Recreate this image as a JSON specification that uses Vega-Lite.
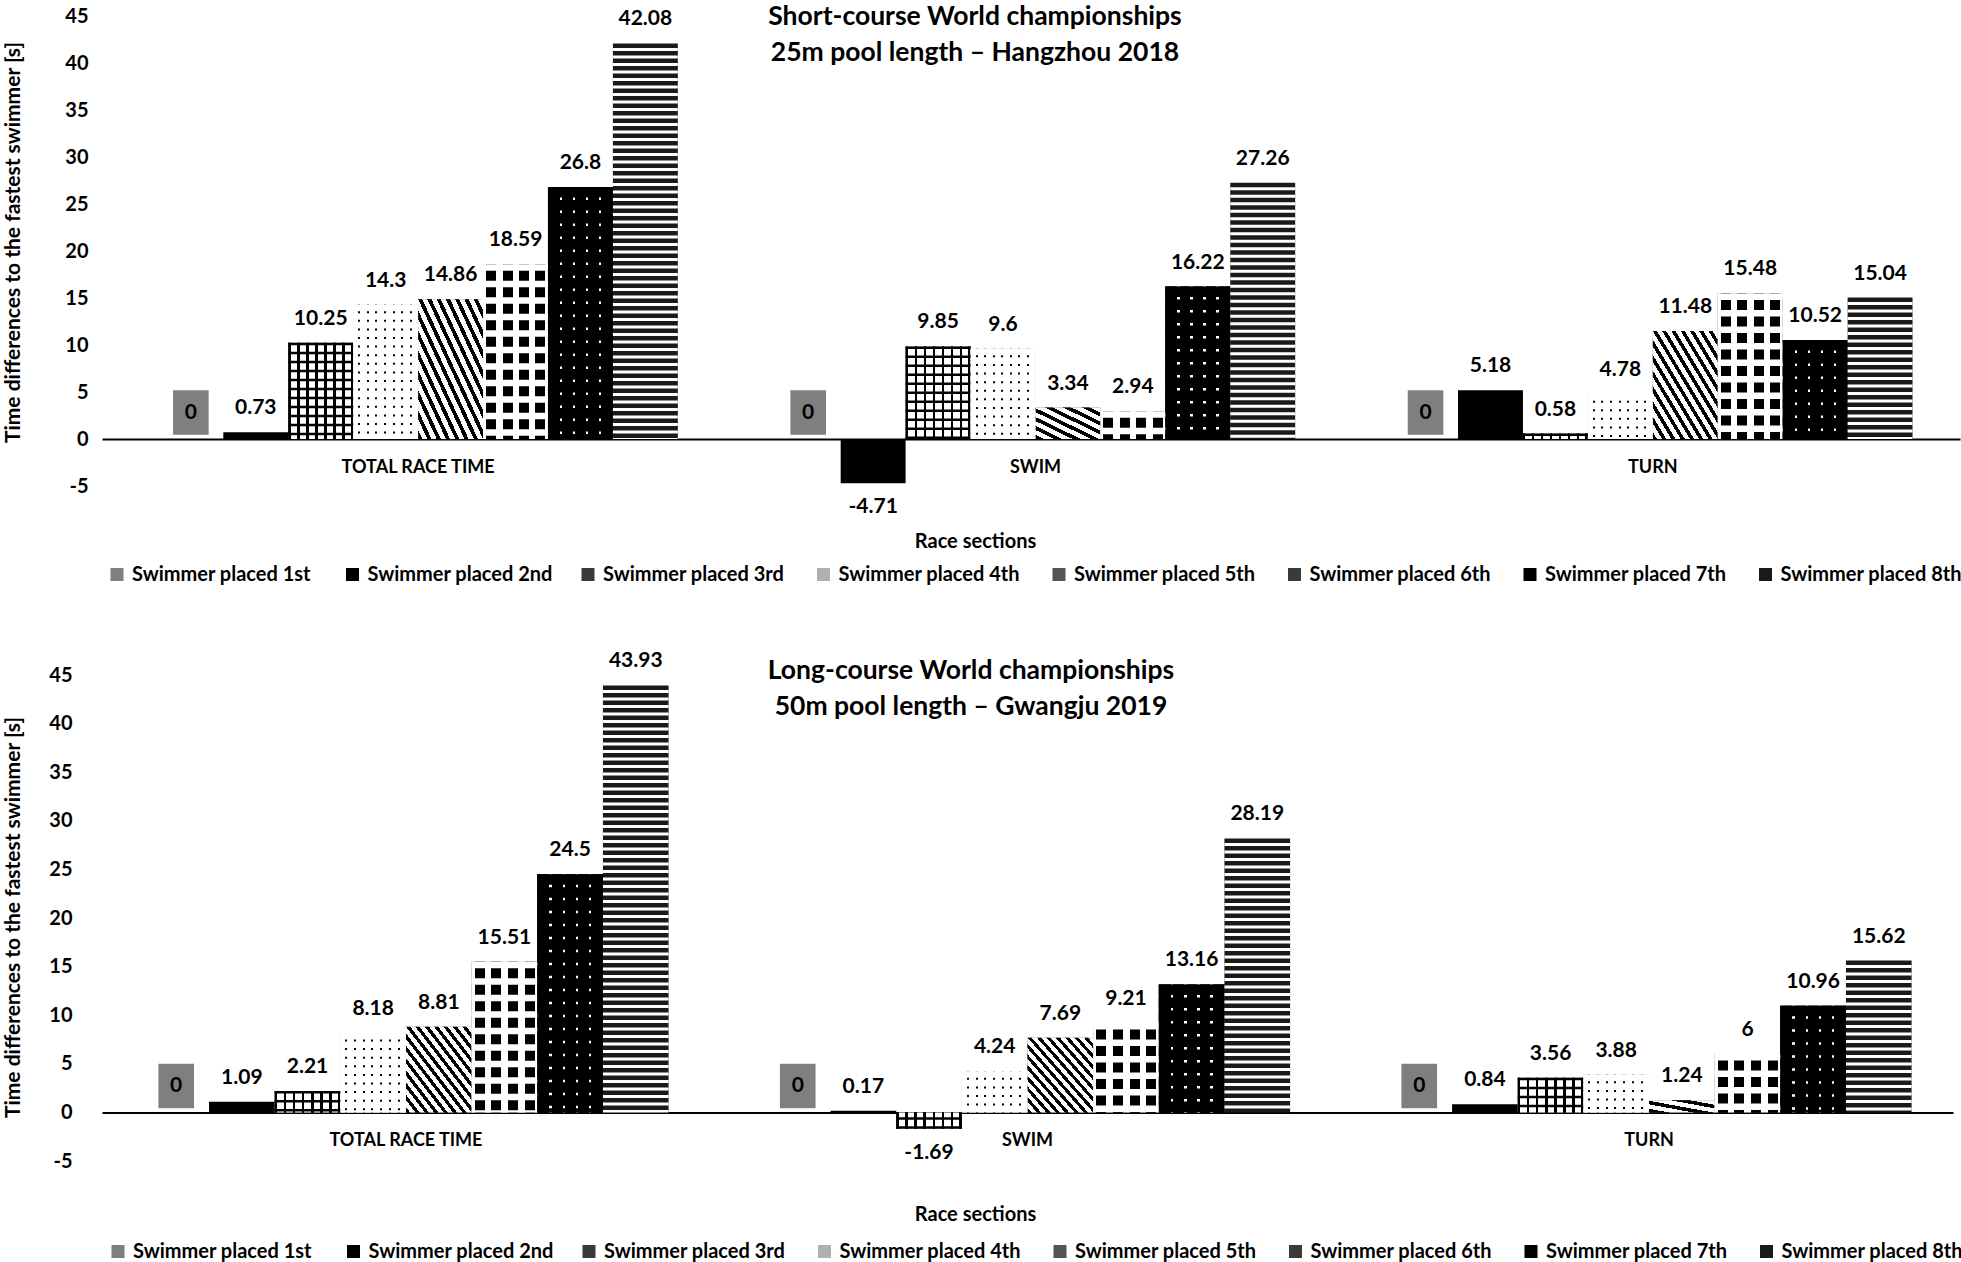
{
  "$schema": "https://vega.github.io/schema/vega-lite/v6.json",
  "background": "white",
  "padding": {"left": 1, "top": 4, "right": 0, "bottom": 0},
  "datasets": {
    "short": [
      {"section": "TOTAL RACE TIME", "swimmer": "Swimmer placed 1st", "value": 0},
      {"section": "TOTAL RACE TIME", "swimmer": "Swimmer placed 2nd", "value": 0.73},
      {"section": "TOTAL RACE TIME", "swimmer": "Swimmer placed 3rd", "value": 10.25},
      {"section": "TOTAL RACE TIME", "swimmer": "Swimmer placed 4th", "value": 14.3},
      {"section": "TOTAL RACE TIME", "swimmer": "Swimmer placed 5th", "value": 14.86},
      {"section": "TOTAL RACE TIME", "swimmer": "Swimmer placed 6th", "value": 18.59},
      {"section": "TOTAL RACE TIME", "swimmer": "Swimmer placed 7th", "value": 26.8},
      {"section": "TOTAL RACE TIME", "swimmer": "Swimmer placed 8th", "value": 42.08},
      {"section": "SWIM", "swimmer": "Swimmer placed 1st", "value": 0},
      {"section": "SWIM", "swimmer": "Swimmer placed 2nd", "value": -4.71},
      {"section": "SWIM", "swimmer": "Swimmer placed 3rd", "value": 9.85},
      {"section": "SWIM", "swimmer": "Swimmer placed 4th", "value": 9.6},
      {"section": "SWIM", "swimmer": "Swimmer placed 5th", "value": 3.34},
      {"section": "SWIM", "swimmer": "Swimmer placed 6th", "value": 2.94},
      {"section": "SWIM", "swimmer": "Swimmer placed 7th", "value": 16.22},
      {"section": "SWIM", "swimmer": "Swimmer placed 8th", "value": 27.26},
      {"section": "TURN", "swimmer": "Swimmer placed 1st", "value": 0},
      {"section": "TURN", "swimmer": "Swimmer placed 2nd", "value": 5.18},
      {"section": "TURN", "swimmer": "Swimmer placed 3rd", "value": 0.58},
      {"section": "TURN", "swimmer": "Swimmer placed 4th", "value": 4.78},
      {"section": "TURN", "swimmer": "Swimmer placed 5th", "value": 11.48},
      {"section": "TURN", "swimmer": "Swimmer placed 6th", "value": 15.48},
      {"section": "TURN", "swimmer": "Swimmer placed 7th", "value": 10.52},
      {"section": "TURN", "swimmer": "Swimmer placed 8th", "value": 15.04}
    ],
    "long": [
      {"section": "TOTAL RACE TIME", "swimmer": "Swimmer placed 1st", "value": 0},
      {"section": "TOTAL RACE TIME", "swimmer": "Swimmer placed 2nd", "value": 1.09},
      {"section": "TOTAL RACE TIME", "swimmer": "Swimmer placed 3rd", "value": 2.21},
      {"section": "TOTAL RACE TIME", "swimmer": "Swimmer placed 4th", "value": 8.18},
      {"section": "TOTAL RACE TIME", "swimmer": "Swimmer placed 5th", "value": 8.81},
      {"section": "TOTAL RACE TIME", "swimmer": "Swimmer placed 6th", "value": 15.51},
      {"section": "TOTAL RACE TIME", "swimmer": "Swimmer placed 7th", "value": 24.5},
      {"section": "TOTAL RACE TIME", "swimmer": "Swimmer placed 8th", "value": 43.93},
      {"section": "SWIM", "swimmer": "Swimmer placed 1st", "value": 0},
      {"section": "SWIM", "swimmer": "Swimmer placed 2nd", "value": 0.17},
      {"section": "SWIM", "swimmer": "Swimmer placed 3rd", "value": -1.69},
      {"section": "SWIM", "swimmer": "Swimmer placed 4th", "value": 4.24},
      {"section": "SWIM", "swimmer": "Swimmer placed 5th", "value": 7.69},
      {"section": "SWIM", "swimmer": "Swimmer placed 6th", "value": 9.21},
      {"section": "SWIM", "swimmer": "Swimmer placed 7th", "value": 13.16},
      {"section": "SWIM", "swimmer": "Swimmer placed 8th", "value": 28.19},
      {"section": "TURN", "swimmer": "Swimmer placed 1st", "value": 0},
      {"section": "TURN", "swimmer": "Swimmer placed 2nd", "value": 0.84},
      {"section": "TURN", "swimmer": "Swimmer placed 3rd", "value": 3.56},
      {"section": "TURN", "swimmer": "Swimmer placed 4th", "value": 3.88},
      {"section": "TURN", "swimmer": "Swimmer placed 5th", "value": 1.24},
      {"section": "TURN", "swimmer": "Swimmer placed 6th", "value": 6},
      {"section": "TURN", "swimmer": "Swimmer placed 7th", "value": 10.96},
      {"section": "TURN", "swimmer": "Swimmer placed 8th", "value": 15.62}
    ]
  },
  "config": {
    "font": "Lato",
    "view": {"stroke": null},
    "axis": {"labelFont": "Lato", "labelFontWeight": "bold", "labelColor": "black", "titleFont": "Lato", "titleFontWeight": "bold", "titleColor": "black", "grid": false, "ticks": false, "tickSize": 0},
    "axisY": {"domain": false, "labelFontSize": 20, "labelFontWeight": "bold", "titleFontSize": 21, "titleFontWeight": "bold", "titleAngle": 270, "titleX": -89, "titleBaseline": "middle", "titleAlign": "center", "values": [-5, 0, 5, 10, 15, 20, 25, 30, 35, 40, 45], "labelExpr": "'' + datum.value"},
    "axisX": {"domainColor": "black", "domainWidth": 2, "labelAngle": 0, "labelFontSize": 18, "labelFontWeight": "bold", "labelPadding": 19, "titleFontSize": 20, "titleFontWeight": "bold", "titlePadding": 55, "titleX": 873},
    "legend": {"orient": "none", "direction": "horizontal", "columns": 8, "symbolType": "square", "symbolSize": 169, "symbolStrokeWidth": 0, "labelFont": "Lato", "labelFontSize": 20, "labelFontWeight": "bold", "labelColor": "black", "labelLimit": 400, "columnPadding": 24.5, "gridAlign": "all", "labelOffset": 5, "padding": 0},
    "title": {"font": "Lato", "fontSize": 26.5, "fontWeight": "bold", "color": "black", "anchor": "middle", "lineHeight": 36, "frame": "group"}
  },
  "spacing": 189,
  "bounds": "flush",
  "resolve": {"scale": {"color": "independent", "x": "independent", "y": "independent", "xOffset": "independent"}, "legend": {"color": "independent"}},
  "vconcat": [
    {
      "data": {"name": "short"},
      "width": 1858,
      "height": 470,
      "title": {"text": ["Short-course World championships", "25m pool length – Hangzhou 2018"], "offset": -60.6, "dx": -56},
      "encoding": {
        "x": {"field": "section", "type": "nominal", "sort": ["TOTAL RACE TIME", "SWIM", "TURN"], "scale": {"domain": ["TOTAL RACE TIME", "SWIM", "TURN"], "paddingInner": 0.1586, "paddingOuter": 0.0841, "align": 0.543}, "axis": {"offset": -47, "title": "Race sections"}},
        "xOffset": {"field": "swimmer", "type": "nominal", "scale": {"domain": ["Swimmer placed 1st", "Swimmer placed 2nd", "Swimmer placed 3rd", "Swimmer placed 4th", "Swimmer placed 5th", "Swimmer placed 6th", "Swimmer placed 7th", "Swimmer placed 8th"], "paddingInner": 0, "paddingOuter": 0}},
        "y": {"field": "value", "type": "quantitative", "scale": {"domain": [-5, 45], "nice": false, "zero": false}, "axis": {"title": "Time differences to the fastest swimmer [s]", "labelPadding": 14, "titleY": 226}}
      },
      "layer": [
        {"mark": {"type": "bar"}, "encoding": {"color": {"field": "swimmer", "type": "nominal", "scale": {"domain": ["Swimmer placed 1st", "Swimmer placed 2nd", "Swimmer placed 3rd", "Swimmer placed 4th", "Swimmer placed 5th", "Swimmer placed 6th", "Swimmer placed 7th", "Swimmer placed 8th"], "range": ["#7f7f7f", "#000000", "#3a3a3a", "#b0b0b0", "#555555", "#3a3a3a", "#000000", "#1a1a1a"]}, "legend": {"title": null, "legendX": 5, "legendY": 548.5}}}},
        {"transform": [{"filter": "datum.swimmer == 'Swimmer placed 3rd'"}], "mark": {"type": "bar", "fill": {"gradient": "linear", "x1": 0, "y1": 0, "x2": 1, "y2": 0, "stops": [{"offset": 0, "color": "black"}, {"offset": 0.0385, "color": "black"}, {"offset": 0.0385, "color": "white"}, {"offset": 0.1385, "color": "white"}, {"offset": 0.1385, "color": "black"}, {"offset": 0.1769, "color": "black"}, {"offset": 0.1769, "color": "white"}, {"offset": 0.2769, "color": "white"}, {"offset": 0.2769, "color": "black"}, {"offset": 0.3154, "color": "black"}, {"offset": 0.3154, "color": "white"}, {"offset": 0.4154, "color": "white"}, {"offset": 0.4154, "color": "black"}, {"offset": 0.4538, "color": "black"}, {"offset": 0.4538, "color": "white"}, {"offset": 0.5538, "color": "white"}, {"offset": 0.5538, "color": "black"}, {"offset": 0.5923, "color": "black"}, {"offset": 0.5923, "color": "white"}, {"offset": 0.6923, "color": "white"}, {"offset": 0.6923, "color": "black"}, {"offset": 0.7308, "color": "black"}, {"offset": 0.7308, "color": "white"}, {"offset": 0.8308, "color": "white"}, {"offset": 0.8308, "color": "black"}, {"offset": 0.8692, "color": "black"}, {"offset": 0.8692, "color": "white"}, {"offset": 0.9615, "color": "white"}, {"offset": 0.9615, "color": "black"}, {"offset": 1, "color": "black"}]}}},
        {"transform": [{"filter": "datum.swimmer == 'Swimmer placed 4th'"}], "mark": {"type": "bar", "fill": {"gradient": "linear", "x1": 0, "y1": 0, "x2": 1, "y2": 0, "stops": [{"offset": 0, "color": "white"}, {"offset": 0.0769, "color": "white"}, {"offset": 0.0769, "color": "black"}, {"offset": 0.1077, "color": "black"}, {"offset": 0.1077, "color": "white"}, {"offset": 0.2092, "color": "white"}, {"offset": 0.2092, "color": "black"}, {"offset": 0.24, "color": "black"}, {"offset": 0.24, "color": "white"}, {"offset": 0.3415, "color": "white"}, {"offset": 0.3415, "color": "black"}, {"offset": 0.3723, "color": "black"}, {"offset": 0.3723, "color": "white"}, {"offset": 0.4738, "color": "white"}, {"offset": 0.4738, "color": "black"}, {"offset": 0.5046, "color": "black"}, {"offset": 0.5046, "color": "white"}, {"offset": 0.6062, "color": "white"}, {"offset": 0.6062, "color": "black"}, {"offset": 0.6369, "color": "black"}, {"offset": 0.6369, "color": "white"}, {"offset": 0.7385, "color": "white"}, {"offset": 0.7385, "color": "black"}, {"offset": 0.7692, "color": "black"}, {"offset": 0.7692, "color": "white"}, {"offset": 0.8708, "color": "white"}, {"offset": 0.8708, "color": "black"}, {"offset": 0.9015, "color": "black"}, {"offset": 0.9015, "color": "white"}, {"offset": 1, "color": "white"}]}}},
        {"transform": [{"filter": "datum.swimmer == 'Swimmer placed 5th' && datum.value >= 5"}], "mark": {"type": "bar", "fill": {"gradient": "linear", "x1": 0, "y1": 1, "x2": 1, "y2": 0, "stops": [{"offset": 0, "color": "black"}, {"offset": 0.032, "color": "black"}, {"offset": 0.032, "color": "white"}, {"offset": 0.0714, "color": "white"}, {"offset": 0.0714, "color": "black"}, {"offset": 0.1034, "color": "black"}, {"offset": 0.1034, "color": "white"}, {"offset": 0.1429, "color": "white"}, {"offset": 0.1429, "color": "black"}, {"offset": 0.1749, "color": "black"}, {"offset": 0.1749, "color": "white"}, {"offset": 0.2143, "color": "white"}, {"offset": 0.2143, "color": "black"}, {"offset": 0.2463, "color": "black"}, {"offset": 0.2463, "color": "white"}, {"offset": 0.2857, "color": "white"}, {"offset": 0.2857, "color": "black"}, {"offset": 0.3177, "color": "black"}, {"offset": 0.3177, "color": "white"}, {"offset": 0.3571, "color": "white"}, {"offset": 0.3571, "color": "black"}, {"offset": 0.3891, "color": "black"}, {"offset": 0.3891, "color": "white"}, {"offset": 0.4286, "color": "white"}, {"offset": 0.4286, "color": "black"}, {"offset": 0.4606, "color": "black"}, {"offset": 0.4606, "color": "white"}, {"offset": 0.5, "color": "white"}, {"offset": 0.5, "color": "black"}, {"offset": 0.532, "color": "black"}, {"offset": 0.532, "color": "white"}, {"offset": 0.5714, "color": "white"}, {"offset": 0.5714, "color": "black"}, {"offset": 0.6034, "color": "black"}, {"offset": 0.6034, "color": "white"}, {"offset": 0.6429, "color": "white"}, {"offset": 0.6429, "color": "black"}, {"offset": 0.6749, "color": "black"}, {"offset": 0.6749, "color": "white"}, {"offset": 0.7143, "color": "white"}, {"offset": 0.7143, "color": "black"}, {"offset": 0.7463, "color": "black"}, {"offset": 0.7463, "color": "white"}, {"offset": 0.7857, "color": "white"}, {"offset": 0.7857, "color": "black"}, {"offset": 0.8177, "color": "black"}, {"offset": 0.8177, "color": "white"}, {"offset": 0.8571, "color": "white"}, {"offset": 0.8571, "color": "black"}, {"offset": 0.8891, "color": "black"}, {"offset": 0.8891, "color": "white"}, {"offset": 0.9286, "color": "white"}, {"offset": 0.9286, "color": "black"}, {"offset": 0.9606, "color": "black"}, {"offset": 0.9606, "color": "white"}, {"offset": 1, "color": "white"}]}}},
        {"transform": [{"filter": "datum.swimmer == 'Swimmer placed 5th' && datum.value >= 2 && datum.value < 5"}], "mark": {"type": "bar", "fill": {"gradient": "linear", "x1": 0, "y1": 1, "x2": 1, "y2": 0, "stops": [{"offset": 0, "color": "black"}, {"offset": 0.0643, "color": "black"}, {"offset": 0.0643, "color": "white"}, {"offset": 0.1429, "color": "white"}, {"offset": 0.1429, "color": "black"}, {"offset": 0.2071, "color": "black"}, {"offset": 0.2071, "color": "white"}, {"offset": 0.2857, "color": "white"}, {"offset": 0.2857, "color": "black"}, {"offset": 0.35, "color": "black"}, {"offset": 0.35, "color": "white"}, {"offset": 0.4286, "color": "white"}, {"offset": 0.4286, "color": "black"}, {"offset": 0.4929, "color": "black"}, {"offset": 0.4929, "color": "white"}, {"offset": 0.5714, "color": "white"}, {"offset": 0.5714, "color": "black"}, {"offset": 0.6357, "color": "black"}, {"offset": 0.6357, "color": "white"}, {"offset": 0.7143, "color": "white"}, {"offset": 0.7143, "color": "black"}, {"offset": 0.7786, "color": "black"}, {"offset": 0.7786, "color": "white"}, {"offset": 0.8571, "color": "white"}, {"offset": 0.8571, "color": "black"}, {"offset": 0.9214, "color": "black"}, {"offset": 0.9214, "color": "white"}, {"offset": 1, "color": "white"}]}}},
        {"transform": [{"filter": "datum.swimmer == 'Swimmer placed 5th' && datum.value > 0 && datum.value < 2"}], "mark": {"type": "bar", "fill": {"gradient": "linear", "x1": 0, "y1": 1, "x2": 1, "y2": 0, "stops": [{"offset": 0, "color": "black"}, {"offset": 0.15, "color": "black"}, {"offset": 0.15, "color": "white"}, {"offset": 0.3333, "color": "white"}, {"offset": 0.3333, "color": "black"}, {"offset": 0.4833, "color": "black"}, {"offset": 0.4833, "color": "white"}, {"offset": 0.6667, "color": "white"}, {"offset": 0.6667, "color": "black"}, {"offset": 0.8167, "color": "black"}, {"offset": 0.8167, "color": "white"}, {"offset": 1, "color": "white"}]}}},
        {"transform": [{"filter": "datum.swimmer == 'Swimmer placed 6th'"}], "mark": {"type": "bar", "fill": {"gradient": "linear", "x1": 0, "y1": 0, "x2": 1, "y2": 0, "stops": [{"offset": 0, "color": "white"}, {"offset": 0.0462, "color": "white"}, {"offset": 0.0462, "color": "black"}, {"offset": 0.2, "color": "black"}, {"offset": 0.2, "color": "white"}, {"offset": 0.3, "color": "white"}, {"offset": 0.3, "color": "black"}, {"offset": 0.4538, "color": "black"}, {"offset": 0.4538, "color": "white"}, {"offset": 0.5538, "color": "white"}, {"offset": 0.5538, "color": "black"}, {"offset": 0.7077, "color": "black"}, {"offset": 0.7077, "color": "white"}, {"offset": 0.8077, "color": "white"}, {"offset": 0.8077, "color": "black"}, {"offset": 0.9615, "color": "black"}, {"offset": 0.9615, "color": "white"}, {"offset": 1, "color": "white"}]}}},
        {"transform": [{"filter": "datum.swimmer == 'Swimmer placed 7th'"}], "mark": {"type": "bar", "fill": {"gradient": "linear", "x1": 0, "y1": 0, "x2": 1, "y2": 0, "stops": [{"offset": 0, "color": "black"}, {"offset": 0.1846, "color": "black"}, {"offset": 0.1846, "color": "white"}, {"offset": 0.2231, "color": "white"}, {"offset": 0.2231, "color": "black"}, {"offset": 0.3846, "color": "black"}, {"offset": 0.3846, "color": "white"}, {"offset": 0.4231, "color": "white"}, {"offset": 0.4231, "color": "black"}, {"offset": 0.5846, "color": "black"}, {"offset": 0.5846, "color": "white"}, {"offset": 0.6231, "color": "white"}, {"offset": 0.6231, "color": "black"}, {"offset": 0.7846, "color": "black"}, {"offset": 0.7846, "color": "white"}, {"offset": 0.8231, "color": "white"}, {"offset": 0.8231, "color": "black"}, {"offset": 1, "color": "black"}]}}},
        {"transform": [{"filter": "datum.swimmer == 'Swimmer placed 3rd'"}], "mark": {"type": "rule", "color": "black", "strokeWidth": 64.9, "strokeDash": [2.5, 6.5]}, "encoding": {"y2": {"datum": 0}}},
        {"transform": [{"filter": "datum.swimmer == 'Swimmer placed 4th'"}], "mark": {"type": "rule", "color": "white", "strokeWidth": 64.9, "strokeDash": [6.6, 2]}, "encoding": {"y2": {"datum": 0}}},
        {"transform": [{"filter": "datum.swimmer == 'Swimmer placed 6th'"}], "mark": {"type": "rule", "color": "white", "strokeWidth": 64.9, "strokeDash": [6.5, 10]}, "encoding": {"y2": {"datum": 0}}},
        {"transform": [{"filter": "datum.swimmer == 'Swimmer placed 7th'"}], "mark": {"type": "rule", "color": "black", "strokeWidth": 64.9, "strokeDash": [10.5, 2.5]}, "encoding": {"y2": {"datum": 0}}},
        {"transform": [{"filter": "datum.swimmer == 'Swimmer placed 8th'"}], "mark": {"type": "rule", "color": "white", "strokeWidth": 64.9, "strokeDash": [3, 4.5], "strokeDashOffset": 3}, "encoding": {"y2": {"datum": 0}}},
        {"transform": [{"filter": "datum.value > 0"}], "mark": {"type": "text", "dy": -24, "font": "Lato", "fontSize": 21, "fontWeight": "bold", "color": "black", "baseline": "middle"}, "encoding": {"text": {"field": "value", "type": "nominal"}}},
        {"transform": [{"filter": "datum.value < 0"}], "mark": {"type": "text", "dy": 24, "font": "Lato", "fontSize": 21, "fontWeight": "bold", "color": "black", "baseline": "middle"}, "encoding": {"text": {"field": "value", "type": "nominal"}}},
        {"transform": [{"filter": "datum.value == 0"}], "mark": {"type": "point", "shape": "M-0.8,-1L0.8,-1L0.8,1L-0.8,1Z", "filled": true, "color": "#7f7f7f", "opacity": 1, "size": 1984, "yOffset": -26.5, "strokeWidth": 0}},
        {"transform": [{"filter": "datum.value == 0"}], "mark": {"type": "text", "dy": -26.5, "font": "Lato", "fontSize": 21, "fontWeight": "bold", "color": "black", "baseline": "middle"}, "encoding": {"text": {"field": "value", "type": "nominal"}}}
      ]
    },
    {
      "data": {"name": "long"},
      "width": 1851,
      "height": 486,
      "title": {"text": ["Long-course World championships", "50m pool length – Gwangju 2019"], "offset": -70.2, "dx": -56.5},
      "encoding": {
        "x": {"field": "section", "type": "nominal", "sort": ["TOTAL RACE TIME", "SWIM", "TURN"], "scale": {"domain": ["TOTAL RACE TIME", "SWIM", "TURN"], "paddingInner": 0.155, "paddingOuter": 0.0666}, "axis": {"offset": -48.5, "title": "Race sections"}},
        "xOffset": {"field": "swimmer", "type": "nominal", "scale": {"domain": ["Swimmer placed 1st", "Swimmer placed 2nd", "Swimmer placed 3rd", "Swimmer placed 4th", "Swimmer placed 5th", "Swimmer placed 6th", "Swimmer placed 7th", "Swimmer placed 8th"], "paddingInner": 0, "paddingOuter": 0}},
        "y": {"field": "value", "type": "quantitative", "scale": {"domain": [-5, 45], "nice": false, "zero": false}, "axis": {"title": "Time differences to the fastest swimmer [s]", "labelPadding": 30, "titleY": 242}}
      },
      "layer": [
        {"mark": {"type": "bar"}, "encoding": {"color": {"field": "swimmer", "type": "nominal", "scale": {"domain": ["Swimmer placed 1st", "Swimmer placed 2nd", "Swimmer placed 3rd", "Swimmer placed 4th", "Swimmer placed 5th", "Swimmer placed 6th", "Swimmer placed 7th", "Swimmer placed 8th"], "range": ["#7f7f7f", "#000000", "#3a3a3a", "#b0b0b0", "#555555", "#3a3a3a", "#000000", "#1a1a1a"]}, "legend": {"title": null, "legendX": 6, "legendY": 566.5}}}},
        {"transform": [{"filter": "datum.swimmer == 'Swimmer placed 3rd'"}], "mark": {"type": "bar", "fill": {"gradient": "linear", "x1": 0, "y1": 0, "x2": 1, "y2": 0, "stops": [{"offset": 0, "color": "black"}, {"offset": 0.0385, "color": "black"}, {"offset": 0.0385, "color": "white"}, {"offset": 0.1385, "color": "white"}, {"offset": 0.1385, "color": "black"}, {"offset": 0.1769, "color": "black"}, {"offset": 0.1769, "color": "white"}, {"offset": 0.2769, "color": "white"}, {"offset": 0.2769, "color": "black"}, {"offset": 0.3154, "color": "black"}, {"offset": 0.3154, "color": "white"}, {"offset": 0.4154, "color": "white"}, {"offset": 0.4154, "color": "black"}, {"offset": 0.4538, "color": "black"}, {"offset": 0.4538, "color": "white"}, {"offset": 0.5538, "color": "white"}, {"offset": 0.5538, "color": "black"}, {"offset": 0.5923, "color": "black"}, {"offset": 0.5923, "color": "white"}, {"offset": 0.6923, "color": "white"}, {"offset": 0.6923, "color": "black"}, {"offset": 0.7308, "color": "black"}, {"offset": 0.7308, "color": "white"}, {"offset": 0.8308, "color": "white"}, {"offset": 0.8308, "color": "black"}, {"offset": 0.8692, "color": "black"}, {"offset": 0.8692, "color": "white"}, {"offset": 0.9615, "color": "white"}, {"offset": 0.9615, "color": "black"}, {"offset": 1, "color": "black"}]}}},
        {"transform": [{"filter": "datum.swimmer == 'Swimmer placed 4th'"}], "mark": {"type": "bar", "fill": {"gradient": "linear", "x1": 0, "y1": 0, "x2": 1, "y2": 0, "stops": [{"offset": 0, "color": "white"}, {"offset": 0.0769, "color": "white"}, {"offset": 0.0769, "color": "black"}, {"offset": 0.1077, "color": "black"}, {"offset": 0.1077, "color": "white"}, {"offset": 0.2092, "color": "white"}, {"offset": 0.2092, "color": "black"}, {"offset": 0.24, "color": "black"}, {"offset": 0.24, "color": "white"}, {"offset": 0.3415, "color": "white"}, {"offset": 0.3415, "color": "black"}, {"offset": 0.3723, "color": "black"}, {"offset": 0.3723, "color": "white"}, {"offset": 0.4738, "color": "white"}, {"offset": 0.4738, "color": "black"}, {"offset": 0.5046, "color": "black"}, {"offset": 0.5046, "color": "white"}, {"offset": 0.6062, "color": "white"}, {"offset": 0.6062, "color": "black"}, {"offset": 0.6369, "color": "black"}, {"offset": 0.6369, "color": "white"}, {"offset": 0.7385, "color": "white"}, {"offset": 0.7385, "color": "black"}, {"offset": 0.7692, "color": "black"}, {"offset": 0.7692, "color": "white"}, {"offset": 0.8708, "color": "white"}, {"offset": 0.8708, "color": "black"}, {"offset": 0.9015, "color": "black"}, {"offset": 0.9015, "color": "white"}, {"offset": 1, "color": "white"}]}}},
        {"transform": [{"filter": "datum.swimmer == 'Swimmer placed 5th' && datum.value >= 5"}], "mark": {"type": "bar", "fill": {"gradient": "linear", "x1": 0, "y1": 1, "x2": 1, "y2": 0, "stops": [{"offset": 0, "color": "black"}, {"offset": 0.032, "color": "black"}, {"offset": 0.032, "color": "white"}, {"offset": 0.0714, "color": "white"}, {"offset": 0.0714, "color": "black"}, {"offset": 0.1034, "color": "black"}, {"offset": 0.1034, "color": "white"}, {"offset": 0.1429, "color": "white"}, {"offset": 0.1429, "color": "black"}, {"offset": 0.1749, "color": "black"}, {"offset": 0.1749, "color": "white"}, {"offset": 0.2143, "color": "white"}, {"offset": 0.2143, "color": "black"}, {"offset": 0.2463, "color": "black"}, {"offset": 0.2463, "color": "white"}, {"offset": 0.2857, "color": "white"}, {"offset": 0.2857, "color": "black"}, {"offset": 0.3177, "color": "black"}, {"offset": 0.3177, "color": "white"}, {"offset": 0.3571, "color": "white"}, {"offset": 0.3571, "color": "black"}, {"offset": 0.3891, "color": "black"}, {"offset": 0.3891, "color": "white"}, {"offset": 0.4286, "color": "white"}, {"offset": 0.4286, "color": "black"}, {"offset": 0.4606, "color": "black"}, {"offset": 0.4606, "color": "white"}, {"offset": 0.5, "color": "white"}, {"offset": 0.5, "color": "black"}, {"offset": 0.532, "color": "black"}, {"offset": 0.532, "color": "white"}, {"offset": 0.5714, "color": "white"}, {"offset": 0.5714, "color": "black"}, {"offset": 0.6034, "color": "black"}, {"offset": 0.6034, "color": "white"}, {"offset": 0.6429, "color": "white"}, {"offset": 0.6429, "color": "black"}, {"offset": 0.6749, "color": "black"}, {"offset": 0.6749, "color": "white"}, {"offset": 0.7143, "color": "white"}, {"offset": 0.7143, "color": "black"}, {"offset": 0.7463, "color": "black"}, {"offset": 0.7463, "color": "white"}, {"offset": 0.7857, "color": "white"}, {"offset": 0.7857, "color": "black"}, {"offset": 0.8177, "color": "black"}, {"offset": 0.8177, "color": "white"}, {"offset": 0.8571, "color": "white"}, {"offset": 0.8571, "color": "black"}, {"offset": 0.8891, "color": "black"}, {"offset": 0.8891, "color": "white"}, {"offset": 0.9286, "color": "white"}, {"offset": 0.9286, "color": "black"}, {"offset": 0.9606, "color": "black"}, {"offset": 0.9606, "color": "white"}, {"offset": 1, "color": "white"}]}}},
        {"transform": [{"filter": "datum.swimmer == 'Swimmer placed 5th' && datum.value >= 2 && datum.value < 5"}], "mark": {"type": "bar", "fill": {"gradient": "linear", "x1": 0, "y1": 1, "x2": 1, "y2": 0, "stops": [{"offset": 0, "color": "black"}, {"offset": 0.0643, "color": "black"}, {"offset": 0.0643, "color": "white"}, {"offset": 0.1429, "color": "white"}, {"offset": 0.1429, "color": "black"}, {"offset": 0.2071, "color": "black"}, {"offset": 0.2071, "color": "white"}, {"offset": 0.2857, "color": "white"}, {"offset": 0.2857, "color": "black"}, {"offset": 0.35, "color": "black"}, {"offset": 0.35, "color": "white"}, {"offset": 0.4286, "color": "white"}, {"offset": 0.4286, "color": "black"}, {"offset": 0.4929, "color": "black"}, {"offset": 0.4929, "color": "white"}, {"offset": 0.5714, "color": "white"}, {"offset": 0.5714, "color": "black"}, {"offset": 0.6357, "color": "black"}, {"offset": 0.6357, "color": "white"}, {"offset": 0.7143, "color": "white"}, {"offset": 0.7143, "color": "black"}, {"offset": 0.7786, "color": "black"}, {"offset": 0.7786, "color": "white"}, {"offset": 0.8571, "color": "white"}, {"offset": 0.8571, "color": "black"}, {"offset": 0.9214, "color": "black"}, {"offset": 0.9214, "color": "white"}, {"offset": 1, "color": "white"}]}}},
        {"transform": [{"filter": "datum.swimmer == 'Swimmer placed 5th' && datum.value > 0 && datum.value < 2"}], "mark": {"type": "bar", "fill": {"gradient": "linear", "x1": 0, "y1": 1, "x2": 1, "y2": 0, "stops": [{"offset": 0, "color": "black"}, {"offset": 0.15, "color": "black"}, {"offset": 0.15, "color": "white"}, {"offset": 0.3333, "color": "white"}, {"offset": 0.3333, "color": "black"}, {"offset": 0.4833, "color": "black"}, {"offset": 0.4833, "color": "white"}, {"offset": 0.6667, "color": "white"}, {"offset": 0.6667, "color": "black"}, {"offset": 0.8167, "color": "black"}, {"offset": 0.8167, "color": "white"}, {"offset": 1, "color": "white"}]}}},
        {"transform": [{"filter": "datum.swimmer == 'Swimmer placed 6th'"}], "mark": {"type": "bar", "fill": {"gradient": "linear", "x1": 0, "y1": 0, "x2": 1, "y2": 0, "stops": [{"offset": 0, "color": "white"}, {"offset": 0.0462, "color": "white"}, {"offset": 0.0462, "color": "black"}, {"offset": 0.2, "color": "black"}, {"offset": 0.2, "color": "white"}, {"offset": 0.3, "color": "white"}, {"offset": 0.3, "color": "black"}, {"offset": 0.4538, "color": "black"}, {"offset": 0.4538, "color": "white"}, {"offset": 0.5538, "color": "white"}, {"offset": 0.5538, "color": "black"}, {"offset": 0.7077, "color": "black"}, {"offset": 0.7077, "color": "white"}, {"offset": 0.8077, "color": "white"}, {"offset": 0.8077, "color": "black"}, {"offset": 0.9615, "color": "black"}, {"offset": 0.9615, "color": "white"}, {"offset": 1, "color": "white"}]}}},
        {"transform": [{"filter": "datum.swimmer == 'Swimmer placed 7th'"}], "mark": {"type": "bar", "fill": {"gradient": "linear", "x1": 0, "y1": 0, "x2": 1, "y2": 0, "stops": [{"offset": 0, "color": "black"}, {"offset": 0.1846, "color": "black"}, {"offset": 0.1846, "color": "white"}, {"offset": 0.2231, "color": "white"}, {"offset": 0.2231, "color": "black"}, {"offset": 0.3846, "color": "black"}, {"offset": 0.3846, "color": "white"}, {"offset": 0.4231, "color": "white"}, {"offset": 0.4231, "color": "black"}, {"offset": 0.5846, "color": "black"}, {"offset": 0.5846, "color": "white"}, {"offset": 0.6231, "color": "white"}, {"offset": 0.6231, "color": "black"}, {"offset": 0.7846, "color": "black"}, {"offset": 0.7846, "color": "white"}, {"offset": 0.8231, "color": "white"}, {"offset": 0.8231, "color": "black"}, {"offset": 1, "color": "black"}]}}},
        {"transform": [{"filter": "datum.swimmer == 'Swimmer placed 3rd'"}], "mark": {"type": "rule", "color": "black", "strokeWidth": 65.6, "strokeDash": [2.5, 6.5]}, "encoding": {"y2": {"datum": 0}}},
        {"transform": [{"filter": "datum.swimmer == 'Swimmer placed 4th'"}], "mark": {"type": "rule", "color": "white", "strokeWidth": 65.6, "strokeDash": [6.6, 2]}, "encoding": {"y2": {"datum": 0}}},
        {"transform": [{"filter": "datum.swimmer == 'Swimmer placed 6th'"}], "mark": {"type": "rule", "color": "white", "strokeWidth": 65.6, "strokeDash": [6.5, 10]}, "encoding": {"y2": {"datum": 0}}},
        {"transform": [{"filter": "datum.swimmer == 'Swimmer placed 7th'"}], "mark": {"type": "rule", "color": "black", "strokeWidth": 65.6, "strokeDash": [10.5, 2.5]}, "encoding": {"y2": {"datum": 0}}},
        {"transform": [{"filter": "datum.swimmer == 'Swimmer placed 8th'"}], "mark": {"type": "rule", "color": "white", "strokeWidth": 65.6, "strokeDash": [3, 4.5], "strokeDashOffset": 3}, "encoding": {"y2": {"datum": 0}}},
        {"transform": [{"filter": "datum.value > 0"}], "mark": {"type": "text", "dy": -24, "font": "Lato", "fontSize": 21, "fontWeight": "bold", "color": "black", "baseline": "middle"}, "encoding": {"text": {"field": "value", "type": "nominal"}}},
        {"transform": [{"filter": "datum.value < 0"}], "mark": {"type": "text", "dy": 24, "font": "Lato", "fontSize": 21, "fontWeight": "bold", "color": "black", "baseline": "middle"}, "encoding": {"text": {"field": "value", "type": "nominal"}}},
        {"transform": [{"filter": "datum.value == 0"}], "mark": {"type": "point", "shape": "M-0.8,-1L0.8,-1L0.8,1L-0.8,1Z", "filled": true, "color": "#7f7f7f", "opacity": 1, "size": 1984, "yOffset": -26.5, "strokeWidth": 0}},
        {"transform": [{"filter": "datum.value == 0"}], "mark": {"type": "text", "dy": -26.5, "font": "Lato", "fontSize": 21, "fontWeight": "bold", "color": "black", "baseline": "middle"}, "encoding": {"text": {"field": "value", "type": "nominal"}}}
      ]
    }
  ]
}
